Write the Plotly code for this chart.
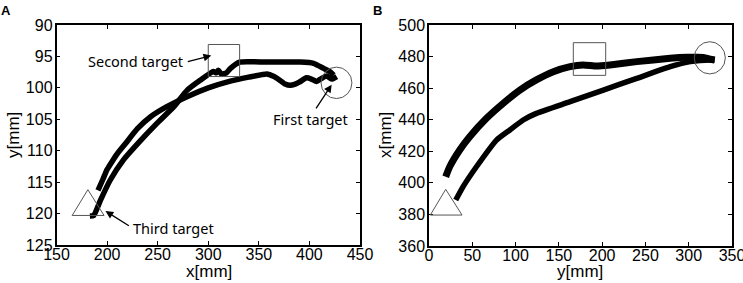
import plotly.graph_objects as go

# ---------------- Panel A data (x[mm], y[mm]) ----------------
a_path1_x = [191, 196, 200, 205, 210, 218, 230, 243, 259, 279, 300, 320, 340, 358,
             365, 370, 376, 381, 386, 390, 397, 402, 407, 412, 417, 422, 427]
a_path1_y = [116.3, 114.5, 113.0, 111.7, 110.5, 108.9, 106.5, 104.6, 103.0, 101.4, 100.0,
             99.0, 98.3, 97.8, 98.2, 98.7, 99.4, 99.6, 99.4, 99.1, 98.4, 98.6, 99.0,
             98.5, 98.1, 98.6, 98.2]
a_path2_x = [183, 186.8, 193.4, 203, 216, 233, 249, 266, 279, 292, 305, 308, 310, 313,
             318, 322, 331, 358, 391, 404, 414, 420, 424]
a_path2_y = [120.4, 120.3, 117.9, 114.7, 111.5, 108.4, 105.7, 103.0, 100.4, 98.8, 97.4,
             97.6, 97.2, 97.8, 97.6, 96.9, 95.9, 95.9, 95.9, 96.1, 96.9, 97.4, 98.0]

# target positions panel A: square (x0,x1,y0,y1), circle (x0,x1,y0,y1), triangle
a_square = [300, 331, 93.1, 98.2]
a_circle = [411.5, 442, 96.7, 101.7]
a_triangle_x = [165.5, 181, 197]
a_triangle_y = [120.3, 116.2, 120.3]

a_labels = ["Second target", "First target", "Third target"]
a_label_x = [276, 363, 225]
a_label_y = [95.7, 105.0, 122.3]
a_label_anchor = ["right", "left", "left"]
a_arrow_tail_x = [278.3, 405.6, 223]
a_arrow_tail_y = [95.9, 103.5, 122.1]
a_arrow_tip_x = [303, 422, 198.4]
a_arrow_tip_y = [94.85, 99.5, 119.6]

# ---------------- Panel B data (y[mm], x[mm]) ----------------
b_path1_x = [19.3, 23.9, 35.5, 47, 66.4, 85.7, 105, 124, 143.6, 163, 178, 193.7, 209,
             240, 278.6, 298, 317, 325, 330]
b_path1_y = [403.9, 410.2, 420.8, 429.2, 440.9, 450.4, 458.8, 465.2, 470.4, 473.6, 474.7,
             474.0, 474.7, 476.8, 478.9, 479.5, 479.5, 478.3, 477.8]
b_path2_x = [30.9, 39.4, 54.8, 78, 93.4, 108.8, 124, 163, 201.4, 240, 278.6, 301.8, 325, 330]
b_path2_y = [389.1, 397.6, 410.2, 427.1, 433.5, 439.8, 444.0, 451.4, 458.8, 466.2, 473.6,
             476.8, 477.8, 477.6]

b_square = [166.7, 204.1, 468.1, 488.8]
b_circle = [306.4, 342.3, 469.0, 489.4]
b_triangle_x = [1.5, 19.3, 38.2]
b_triangle_y = [379.6, 395.9, 379.6]

W, H = 743, 283
ML, MR, MT, MB = 56, 11, 25, 37
pw = W - ML - MR
ph = H - MT - MB


def px(v):
    return (v - ML) / pw


def py(v):
    return (H - MB - v) / ph


fig = go.Figure()


def traj(xs, ys, xa, ya, w):
    fig.add_trace(go.Scatter(x=xs, y=ys, xaxis=xa, yaxis=ya, mode="lines",
                             line=dict(color="black", width=w, shape="spline", smoothing=0.5),
                             showlegend=False, hoverinfo="skip"))


traj(a_path1_x, a_path1_y, "x", "y", 5.5)
traj(a_path2_x, a_path2_y, "x", "y", 5.5)
traj(b_path1_x, b_path1_y, "x2", "y2", 7)
traj(b_path2_x, b_path2_y, "x2", "y2", 5.5)

tgt_line = dict(color="#555555", width=1)


def add_targets(sq, ci, tx, ty, xr, yr):
    fig.add_shape(type="rect", x0=sq[0], x1=sq[1], y0=sq[2], y1=sq[3], xref=xr, yref=yr,
                  line=tgt_line, fillcolor="rgba(0,0,0,0)")
    fig.add_shape(type="circle", x0=ci[0], x1=ci[1], y0=ci[2], y1=ci[3], xref=xr, yref=yr,
                  line=tgt_line, fillcolor="rgba(0,0,0,0)")
    path = "M {} {} L {} {} L {} {} Z".format(tx[0], ty[0], tx[1], ty[1], tx[2], ty[2])
    fig.add_shape(type="path", path=path, xref=xr, yref=yr, line=tgt_line,
                  fillcolor="rgba(0,0,0,0)")


add_targets(a_square, a_circle, a_triangle_x, a_triangle_y, "x", "y")
add_targets(b_square, b_circle, b_triangle_x, b_triangle_y, "x2", "y2")

ann_font = dict(family="Noto Sans, Open Sans, sans-serif", size=14.5, color="black")
for i in range(len(a_labels)):
    fig.add_annotation(x=a_label_x[i], y=a_label_y[i], xref="x", yref="y", text=a_labels[i],
                       showarrow=False, xanchor=a_label_anchor[i], yanchor="middle", font=ann_font,
                       borderpad=0)
    fig.add_annotation(x=a_arrow_tip_x[i], y=a_arrow_tip_y[i], ax=a_arrow_tail_x[i], ay=a_arrow_tail_y[i],
                       xref="x", yref="y", axref="x", ayref="y", text="", showarrow=True,
                       arrowhead=2, arrowsize=1.2, arrowwidth=1.3, arrowcolor="black")

letter_font = dict(family="Liberation Sans, Arial, sans-serif", size=13, color="black")
fig.add_annotation(x=px(6), y=py(10), xref="paper", yref="paper", text="<b>A</b>",
                   showarrow=False, xanchor="center", yanchor="middle", font=letter_font)
fig.add_annotation(x=px(377), y=py(10), xref="paper", yref="paper", text="<b>B</b>",
                   showarrow=False, xanchor="center", yanchor="middle", font=letter_font)

title_font = dict(family="Liberation Sans, Arial, sans-serif", size=17, color="black")
# axis titles
fig.add_annotation(x=px(209), y=py(271), xref="paper", yref="paper", text="x[mm]", showarrow=False,
                   xanchor="center", yanchor="middle", font=title_font)
fig.add_annotation(x=px(13), y=py(135), xref="paper", yref="paper", text="y[mm]", showarrow=False,
                   textangle=-90, xanchor="center", yanchor="middle", font=title_font)
fig.add_annotation(x=px(580), y=py(271), xref="paper", yref="paper", text="y[mm]", showarrow=False,
                   xanchor="center", yanchor="middle", font=title_font)
fig.add_annotation(x=px(385), y=py(135), xref="paper", yref="paper", text="x[mm]", showarrow=False,
                   textangle=-90, xanchor="center", yanchor="middle", font=title_font)

tick_font = dict(family="Liberation Sans, Arial, sans-serif", size=16, color="black")
axis_common = dict(showline=True, linecolor="black", linewidth=1.5, mirror="ticks",
                   ticks="inside", ticklen=4, tickwidth=1, tickcolor="black",
                   showgrid=False, zeroline=False, tickfont=tick_font, fixedrange=True,
                   automargin=False, ticklabeloverflow="allow")

fig.update_layout(
    width=W, height=H,
    margin=dict(l=ML, r=MR, t=MT, b=MB, autoexpand=False),
    paper_bgcolor="white", plot_bgcolor="white",
    xaxis=dict(domain=[px(56.5), px(360)], range=[150, 450], tickvals=[150, 200, 250, 300, 350, 400, 450],
               anchor="y", ticklabelstandoff=-6, **axis_common),
    yaxis=dict(domain=[py(245), py(25)], range=[125, 90], tickvals=[90, 95, 100, 105, 110, 115, 120, 125],
               anchor="x", ticklabelstandoff=-1, **axis_common),
    xaxis2=dict(domain=[px(429), px(732)], range=[0, 350], tickvals=[0, 50, 100, 150, 200, 250, 300, 350],
                anchor="y2", ticklabelstandoff=-6, **axis_common),
    yaxis2=dict(domain=[py(246), py(25)], range=[360, 500], tickvals=[360, 380, 400, 420, 440, 460, 480, 500],
                anchor="x2", ticklabelstandoff=-1, **axis_common),
)

fig.write_html("out.html", config={"displayModeBar": False},
               post_script="document.body.style.margin='0px';document.body.style.padding='0px';")
